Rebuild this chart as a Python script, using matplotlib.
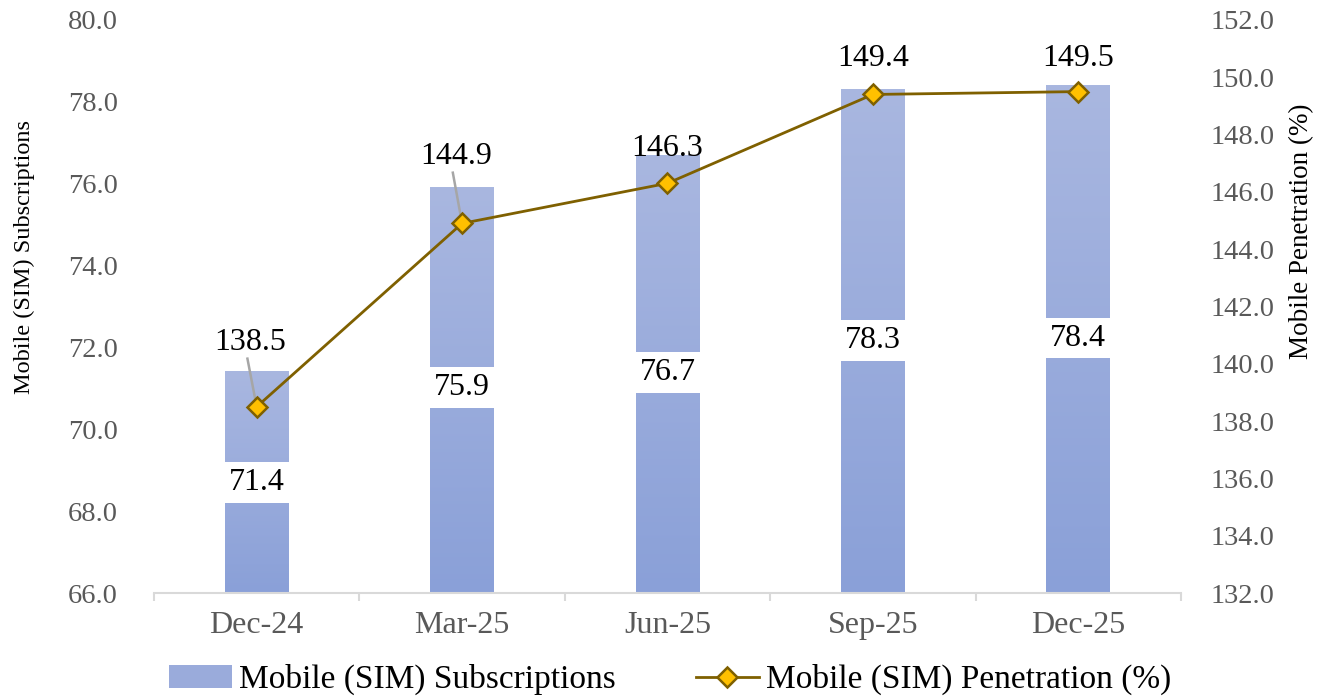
import numpy as np
import matplotlib
matplotlib.use("Agg")
import matplotlib.pyplot as plt
from matplotlib.colors import LinearSegmentedColormap
from matplotlib.patches import Patch, Rectangle
from matplotlib.lines import Line2D

plt.rcParams['font.family'] = ['Liberation Serif', 'DejaVu Serif']

# data
periods = ['Dec-24', 'Mar-25', 'Jun-25', 'Sep-25', 'Dec-25']
subscriptions = [71.4, 75.9, 76.7, 78.3, 78.4]      # millions
penetration = [138.5, 144.9, 146.3, 149.4, 149.5]   # %

# label placement (hand-tuned like the dragged Excel labels)
sub_label_y = [68.71, 71.01, 71.38, 72.18, 72.23]
pen_label_xy = [(-0.03, 140.73), (-0.03, 147.22), (0.0, 147.53), (0.0, 150.67), (0.0, 150.67)]
leader = [True, True, False, False, False]

grey = '#595959'
line_col = '#7f6000'
bar_cmap = LinearSegmentedColormap.from_list('bar', ['#8aa0d8', '#a9b7e0'])

fig = plt.figure(figsize=(13.32, 6.98), dpi=100)
ax = fig.add_axes((0.1156, 0.1504, 0.771, 0.821))
ax2 = ax.twinx()

x = np.arange(len(periods))
w = 0.31
grad = np.linspace(0, 1, 256).reshape(-1, 1)
for xi, v in zip(x, subscriptions):
    ax.imshow(grad, cmap=bar_cmap, origin='lower', aspect='auto',
              extent=(xi - w / 2, xi + w / 2, 66, v), zorder=2)

# value labels sit on a white box that cuts through the bar
for xi, v, ly in zip(x, subscriptions, sub_label_y):
    ax.add_patch(Rectangle((xi - w / 2 - 0.01, ly - 0.5), w + 0.02, 1.0,
                           facecolor='white', edgecolor='none', zorder=4))
    ax.text(xi, ly, f'{v:.1f}', ha='center', va='center', fontsize=23,
            color='black', zorder=5)

ax.set_xlim(-0.5, len(periods) - 0.5)
ax.set_ylim(66, 80)
ax.set_yticks(np.arange(66, 80.1, 2))
ax.set_yticklabels([f'{t:.1f}' for t in np.arange(66, 80.1, 2)])
ax.set_xticks(x)
ax.set_xticklabels(periods)
ax.set_xticks(np.arange(-0.5, len(periods), 1), minor=True)
ax.tick_params(axis='x', which='major', length=0, pad=13, labelsize=23, labelcolor=grey)
ax.tick_params(axis='x', which='minor', length=6, width=1.5, color='#d9d9d9')
ax.tick_params(axis='y', length=0, pad=26, labelsize=20.5, labelcolor=grey)

for s in ['top', 'left', 'right']:
    ax.spines[s].set_visible(False)
    ax2.spines[s].set_visible(False)
ax.spines['bottom'].set_color('#d9d9d9')
ax.spines['bottom'].set_linewidth(1.5)
ax2.spines['bottom'].set_visible(False)

ax2.plot(x, penetration, color=line_col, lw=2, marker='D', markersize=10,
         markerfacecolor='#ffc000', markeredgecolor=line_col, markeredgewidth=1.8,
         zorder=4)
for xi, v, (dx, ly), ld in zip(x, penetration, pen_label_xy, leader):
    ax2.text(xi + dx, ly, f'{v:.1f}', ha='center', va='center', fontsize=23,
             color='black', zorder=5)
    if ld:
        ax2.plot([xi + dx - 0.015, xi], [ly - 0.55, v], color='#a6a6a6', lw=1.8, zorder=3)

ax2.set_ylim(132, 152)
ax2.set_yticks(np.arange(132, 152.1, 2))
ax2.set_yticklabels([f'{t:.1f}' for t in np.arange(132, 152.1, 2)])
ax2.tick_params(axis='y', length=0, pad=21, labelsize=20.5, labelcolor=grey)

fig.text(0.018, 0.632, 'Mobile (SIM) Subscriptions', rotation=90, ha='center',
         va='center', fontsize=17.5, color='black')
fig.text(0.9775, 0.669, 'Mobile Penetration (%)', rotation=90, ha='center',
         va='center', fontsize=19.5, color='black')

handles = [Patch(facecolor='#9aabdb', edgecolor='none'),
           Line2D([0], [0], color=line_col, lw=2, marker='D', markersize=10,
                  markerfacecolor='#ffc000', markeredgecolor=line_col, markeredgewidth=1.8)]
fig.legend(handles, ['Mobile (SIM) Subscriptions', 'Mobile (SIM) Penetration (%)'],
           loc='center', bbox_to_anchor=(0.503, 0.026), ncol=2, frameon=False,
           fontsize=24, handlelength=1.9, handleheight=0.7, handletextpad=0.2,
           columnspacing=2.4)

fig.savefig('out.png', dpi=100)
